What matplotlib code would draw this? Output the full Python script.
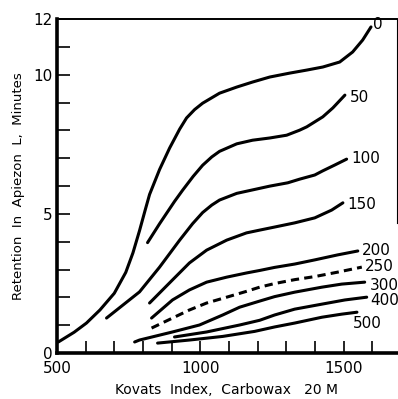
"""
Retention in Apiezon L vs Kovats index on Carbowax 20 M, one curve per temperature label.
"""

import matplotlib.pyplot as plt
from matplotlib.ticker import FixedFormatter, FixedLocator


OUT_PATH = "out.png"

# curve values (x = Kovats index, y = minutes)
x_0 = [505, 560, 603, 650, 700, 740, 765, 788, 808, 823, 858, 893, 928, 952,
       980, 1008, 1067, 1127, 1182, 1242, 1311, 1371, 1427, 1486, 1531, 1566,
       1595]
y_0 = [0.40, 0.75, 1.08, 1.55, 2.15, 2.90, 3.60, 4.40, 5.15, 5.70, 6.60, 7.37,
       8.05, 8.45, 8.75, 8.98, 9.34, 9.56, 9.74, 9.92, 10.06, 10.17, 10.28,
       10.46, 10.82, 11.25, 11.72]

x_50 = [816, 858, 910, 938, 975, 1008, 1040, 1067, 1127, 1182, 1242, 1301,
        1346, 1371, 1427, 1462, 1504]
y_50 = [3.97, 4.65, 5.45, 5.85, 6.35, 6.75, 7.05, 7.25, 7.52, 7.65, 7.73,
        7.83, 8.01, 8.13, 8.49, 8.81, 9.27]

x_100 = [673, 788, 858, 928, 973, 1008, 1040, 1067, 1127, 1189, 1242, 1305,
         1346, 1399, 1427, 1469, 1510]
y_100 = [1.26, 2.20, 3.09, 4.06, 4.65, 5.05, 5.32, 5.50, 5.74, 5.88, 6.00,
         6.12, 6.25, 6.40, 6.55, 6.76, 6.97]

x_150 = [823, 903, 962, 1022, 1092, 1161, 1207, 1259, 1329, 1399, 1458, 1497]
y_150 = [1.80, 2.63, 3.24, 3.70, 4.06, 4.32, 4.42, 4.53, 4.68, 4.86, 5.14, 5.40]

x_200 = [830, 903, 962, 1022, 1092, 1161, 1207, 1259, 1329, 1399, 1479, 1549]
y_200 = [1.26, 1.91, 2.27, 2.55, 2.73, 2.88, 2.97, 3.08, 3.20, 3.35, 3.53, 3.67]

x_250 = [830, 903, 962, 1022, 1092, 1161, 1207, 1259, 1329, 1399, 1479, 1563]
y_250 = [0.90, 1.26, 1.55, 1.80, 2.01, 2.22, 2.37, 2.50, 2.64, 2.75, 2.91, 3.09]

x_300 = [771, 788, 903, 997, 1078, 1137, 1207, 1259, 1329, 1424, 1493, 1573]
y_300 = [0.40, 0.47, 0.76, 1.01, 1.37, 1.65, 1.87, 2.03, 2.19, 2.37, 2.48, 2.55]

x_400 = [910, 1022, 1137, 1207, 1259, 1329, 1424, 1504, 1580]
y_400 = [0.58, 0.76, 1.01, 1.18, 1.37, 1.58, 1.76, 1.91, 2.01]

x_500 = [851, 962, 1078, 1189, 1259, 1329, 1424, 1493, 1546]
y_500 = [0.36, 0.47, 0.60, 0.78, 0.94, 1.08, 1.29, 1.40, 1.47]

# label text and where each label sits (left edge, vertical centre)
curve_labels = ["0", "50", "100", "150", "200", "250", "300", "400", "500"]
label_x = [1601, 1521, 1528, 1514, 1563, 1573, 1591, 1591, 1531]
label_y = [11.79, 9.20, 7.00, 5.35, 3.70, 3.13, 2.44, 1.90, 1.08]

x_ticks = list(range(500, 1700, 100))
x_tick_labels = ["500", "", "", "", "", "1000", "", "", "", "", "1500", ""]
y_ticks = list(range(0, 13))
y_tick_labels = ["0", "", "", "", "", "5", "", "", "", "", "10", "", "12"]


def main() -> None:
    fig = plt.figure(figsize=(3.98, 3.99), dpi=100)
    ax = fig.add_axes([0.143, 0.115, 0.854, 0.837])

    curves = [
        (x_0, y_0, "-"),
        (x_50, y_50, "-"),
        (x_100, y_100, "-"),
        (x_150, y_150, "-"),
        (x_200, y_200, "-"),
        (x_250, y_250, (0, (2.7, 1.7))),
        (x_300, y_300, "-"),
        (x_400, y_400, "-"),
        (x_500, y_500, "-"),
    ]
    for xs, ys, style in curves:
        ax.plot(xs, ys, color="black", linewidth=2.2, linestyle=style,
                solid_capstyle="round", solid_joinstyle="round")

    for text, lx, ly in zip(curve_labels, label_x, label_y):
        ax.text(lx, ly, text, ha="left", va="center", fontsize=11,
                clip_on=False)

    ax.set_xlim(500, 1685)
    ax.set_ylim(0, 12)

    ax.xaxis.set_major_locator(FixedLocator(x_ticks))
    ax.xaxis.set_major_formatter(FixedFormatter(x_tick_labels))
    ax.yaxis.set_major_locator(FixedLocator(y_ticks))
    ax.yaxis.set_major_formatter(FixedFormatter(y_tick_labels))
    ax.tick_params(direction="in", length=9, width=1.2, labelsize=11)
    ax.tick_params(axis="x", pad=6)
    ax.tick_params(axis="y", pad=3)

    ax.spines["left"].set_linewidth(2.6)
    ax.spines["bottom"].set_linewidth(2.6)
    ax.spines["top"].set_linewidth(1.4)
    ax.spines["right"].set_visible(False)
    ax.axvline(1685, ymin=0.39, ymax=1.0, color="black", linewidth=0.8,
               clip_on=False)

    ax.set_xlabel("Kovats  Index,  Carbowax   20 M", fontsize=10, labelpad=5)
    ax.set_ylabel("Retention  In  Apiezon  L,  Minutes", fontsize=9.5,
                  labelpad=6)

    fig.savefig(OUT_PATH, dpi=100)
    plt.close(fig)


if __name__ == "__main__":
    main()
